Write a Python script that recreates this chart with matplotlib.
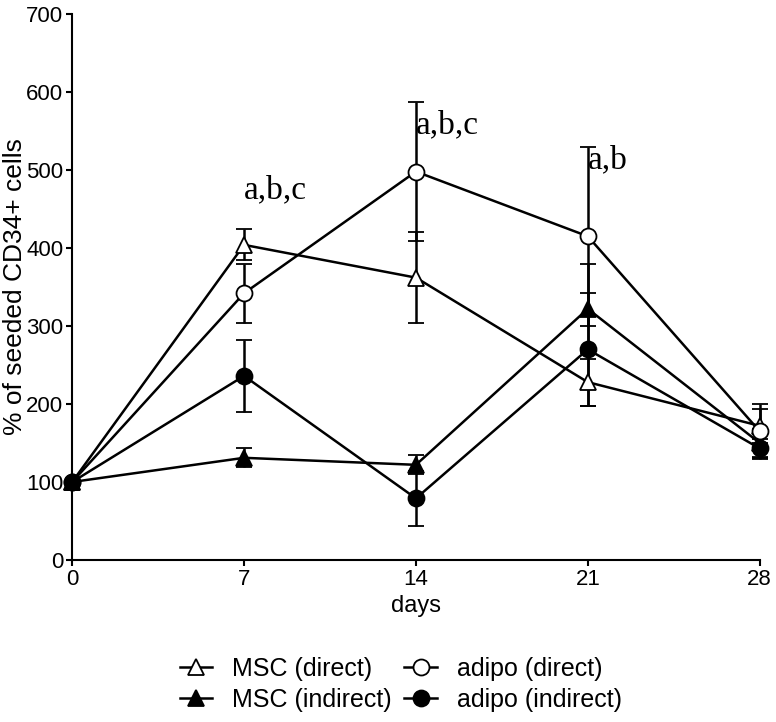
import numpy as np
import matplotlib
matplotlib.use("Agg")
import matplotlib.pyplot as plt
from matplotlib.lines import Line2D

# data
days = [0, 7, 14, 21, 28]
msc_direct = [100, 404, 362, 228, 172]
msc_direct_err = [0, 20, 58, 30, 22]
msc_indirect = [100, 131, 122, 322, 150]
msc_indirect_err = [0, 12, 12, 57, 18]
adipo_direct = [100, 342, 498, 415, 165]
adipo_direct_err = [0, 38, 89, 115, 35]
adipo_indirect = [100, 236, 79, 270, 143]
adipo_indirect_err = [0, 46, 35, 72, 12]

sig_days = [7, 14, 21]
sig_labels = ["a,b,c", "a,b,c", "a,b"]
sig_y = [474, 558, 513]

plt.rcParams['font.family'] = ['Liberation Sans', 'DejaVu Sans']

fig = plt.figure(figsize=(7.76, 7.22), dpi=100)
ax = fig.add_axes([0.093, 0.2244, 0.886, 0.7562])

series = [
    ("MSC (direct)", msc_direct, msc_direct_err, "^", "white"),
    ("MSC (indirect)", msc_indirect, msc_indirect_err, "^", "black"),
    ("adipo (direct)", adipo_direct, adipo_direct_err, "o", "white"),
    ("adipo (indirect)", adipo_indirect, adipo_indirect_err, "o", "black"),
]

handles = []
for label, vals, err, mk, fc in series:
    ax.errorbar(days, vals, yerr=err, color="black", lw=1.8, marker=mk,
                markersize=11.5, markerfacecolor=fc, markeredgecolor="black",
                markeredgewidth=1.3, capsize=6, capthick=1.8, elinewidth=1.8,
                clip_on=False, zorder=3)
    handles.append(Line2D([], [], color="black", lw=1.8, marker=mk, markersize=11.5,
                          markerfacecolor=fc, markeredgecolor="black",
                          markeredgewidth=1.3, label=label))

# significance letters start at the time point
for d, s, y in zip(sig_days, sig_labels, sig_y):
    ax.text(d, y, s, ha="left", va="center", fontsize=24,
            family=["Liberation Serif", "DejaVu Serif"])

ax.set_xlim(0, 28)
ax.set_ylim(0, 700)
ax.set_xticks(days)
ax.set_yticks(range(0, 701, 100))
ax.tick_params(labelsize=16, width=1.5, length=4, pad=2.5, direction="out")
ax.spines["top"].set_visible(False)
ax.spines["right"].set_visible(False)
ax.spines["left"].set_linewidth(1.5)
ax.spines["bottom"].set_linewidth(1.5)
ax.set_xlabel("days", fontsize=17)
ax.xaxis.set_label_coords(0.5, -0.084)
ax.xaxis.label.set_va("center")
ax.set_ylabel("% of seeded CD34+ cells", fontsize=19)
ax.yaxis.set_label_coords(-0.0835, 0.5)
ax.yaxis.label.set_va("center")

fig.legend(handles=handles, loc="center", bbox_to_anchor=(0.5165, 0.052),
           ncol=2, frameon=False, fontsize=18, handlelength=1.3,
           handletextpad=0.8, columnspacing=0.5, labelspacing=0.3,
           borderaxespad=0)

fig.savefig("out.png", dpi=100)
